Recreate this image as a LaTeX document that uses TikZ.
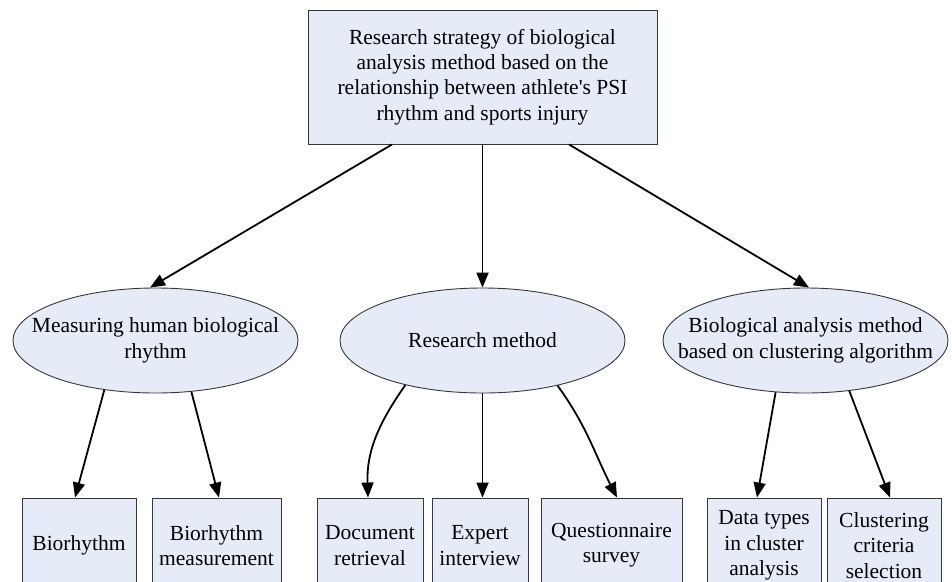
\documentclass[tikz,border=0pt]{standalone}
\usepackage{fontspec}
\setmainfont{Liberation Serif}
\usetikzlibrary{shapes.geometric,arrows.meta}
\definecolor{boxfill}{RGB}{230,236,247}
\definecolor{boxline}{RGB}{55,55,55}
\newcommand{\diagfont}{\fontsize{21.5}{25.3}\selectfont}
\begin{document}
\begin{tikzpicture}[x=1pt,y=1pt,
  box/.style={draw=boxline, line width=0.9pt, fill=boxfill, inner sep=0pt, align=center, font=\diagfont},
  ell/.style={ellipse, draw=boxline, line width=0.9pt, fill=boxfill, inner sep=0pt, minimum width=285pt, minimum height=105pt},
  lbl/.style={inner sep=0pt, align=center, font=\diagfont},
  arr/.style={-{Triangle[length=15pt,width=12pt]}, line width=1.8pt, black}]
\useasboundingbox (0,0) rectangle (952,-581);
\clip (0,0) rectangle (952,-581);
% top box
\node[box, minimum width=349pt, minimum height=134pt] (top) at (482.5,-77)
  {Research strategy of biological\\analysis method based on the\\relationship between athlete\textquotesingle s PSI\\rhythm and sports injury};
% ellipses
\node[ell] (e1) at (155.5,-340.5) {};
\node[lbl] (t1) at (e1.center) {Measuring human biological\\rhythm};
\node[ell] (e2) at (482.5,-340.5) {};
\node[lbl] (t2) at (e2.center) {Research method};
\node[ell] (e3) at (805.5,-340.5) {};
\node[lbl] (t3) at (e3.center) {Biological analysis method\\based on clustering algorithm};
% bottom boxes
\node[box, minimum width=114pt, minimum height=95pt] (b1) at (79,-545.5) {Biorhythm};
\node[box, minimum width=129pt, minimum height=95pt] (b2) at (216.5,-545.5) {Biorhythm\\measurement};
\node[box, minimum width=106pt, minimum height=95pt] (b3) at (370,-545.5) {Document\\retrieval};
\node[box, minimum width=96pt, minimum height=95pt] (b4) at (480,-545.5) {Expert\\interview};
\node[box, minimum width=141pt, minimum height=95pt] (b5) at (611.5,-545.5) {Questionnaire\\survey};
\node[box, minimum width=114pt, minimum height=95pt] (b6) at (764,-545.5) {Data types\\in cluster\\analysis};
\node[box, minimum width=114pt, minimum height=95pt] (b7) at (884,-545.5) {Clustering\\criteria\\selection};
% connectors
\draw[arr] ([xshift=-90.5pt]top.south) -- ([xshift=-5.5pt]e1.north);
\draw[arr] (top.south) -- (e2.north);
\draw[arr] ([xshift=86.5pt]top.south) -- ([xshift=3.5pt]e3.north);
\draw[arr] (e1.-136) -- ([xshift=-4pt]b1.north);
\draw[arr] (e1.-55) -- ([xshift=2.5pt]b2.north);
\draw[arr] (e2.-150) to[out=-125,in=92] ([xshift=-2pt]b3.north);
\draw[arr] (e2.south) -- (e2.south |- b4.north);
\draw[arr] (e2.-31) to[out=-54,in=117] ([xshift=5.5pt]b5.north);
\draw[arr] (e3.-120) -- ([xshift=-7pt]b6.north);
\draw[arr] (e3.-49) -- ([xshift=6pt]b7.north);
\end{tikzpicture}
\end{document}
